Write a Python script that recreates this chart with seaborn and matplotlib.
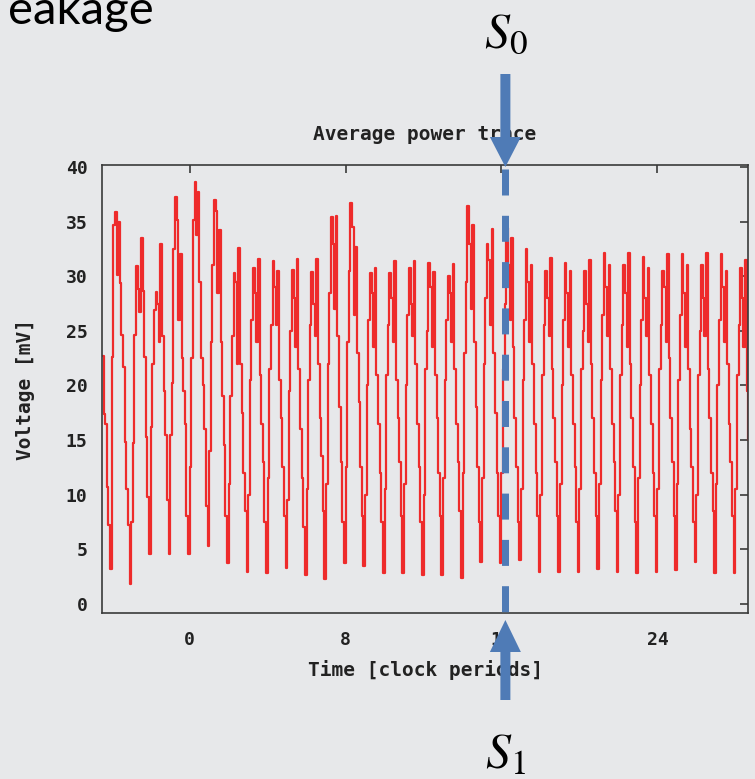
import numpy as np
import pandas as pd
import matplotlib
matplotlib.use("Agg")
import matplotlib.pyplot as plt
import seaborn as sns
from matplotlib.patches import Polygon
from matplotlib.lines import Line2D
from matplotlib.transforms import IdentityTransform

# ---------------- data ----------------
# samples every 1/12 clock period, starting at t = -4.5
lead_in = [22.7, 17.4, 16.5, 10.7, 7.2]

trace_part1 = [
    [3.2, 22.6, 34.7, 35.9, 30.1, 35.0, 29.4, 24.6, 21.7, 14.8, 10.5, 7.2],
    [1.8, 7.5, 14.7, 24.6, 30.9, 28.8, 26.7, 33.5, 28.7, 22.6, 15.3, 9.8],
    [4.6, 16.2, 22.0, 26.9, 28.6, 27.5, 24.0, 33.0, 24.5, 19.5, 15.5, 9.5],
    [4.6, 15.5, 20.2, 32.5, 37.3, 35.2, 26.0, 32.0, 22.5, 19.5, 16.5, 8.0],
    [4.6, 12.5, 22.5, 35.2, 38.6, 33.8, 37.7, 29.5, 22.5, 20.0, 16.0, 9.0],
    [5.3, 14.0, 24.0, 31.0, 37.0, 36.0, 28.5, 34.2, 24.0, 19.0, 14.5, 8.0],
    [3.7, 11.0, 19.0, 24.5, 30.3, 29.5, 22.0, 32.6, 22.0, 17.5, 12.0, 8.5],
    [2.9, 10.0, 20.5, 26.0, 30.8, 28.5, 24.0, 31.6, 21.0, 16.5, 13.0, 7.5],
    [2.8, 11.5, 21.5, 25.5, 31.4, 29.0, 25.5, 30.5, 20.5, 17.0, 12.5, 8.0],
    [3.3, 9.5, 19.5, 25.0, 30.6, 28.0, 23.5, 31.6, 21.5, 16.0, 11.5, 7.0],
    [2.6, 10.5, 20.5, 25.5, 30.4, 27.5, 24.5, 31.6, 22.0, 17.0, 13.5, 8.5],
]
trace_part2 = [
    [2.3, 11.0, 22.0, 28.5, 35.4, 33.0, 27.0, 35.5, 24.5, 18.0, 13.0, 7.5],
    [3.7, 12.5, 24.0, 30.5, 36.7, 34.5, 26.5, 32.7, 23.0, 18.5, 12.5, 8.0],
    [3.5, 10.0, 20.0, 26.0, 30.3, 28.5, 23.5, 30.8, 21.0, 16.5, 12.0, 7.5],
    [2.8, 10.5, 21.0, 25.5, 30.3, 28.0, 24.0, 31.4, 20.5, 17.0, 13.0, 8.0],
    [2.8, 11.0, 20.0, 26.5, 30.8, 27.5, 24.5, 31.4, 22.0, 16.5, 12.5, 7.5],
    [2.6, 10.0, 21.5, 25.0, 31.2, 29.0, 23.5, 30.4, 21.0, 17.0, 12.0, 8.0],
    [2.6, 11.5, 20.5, 26.0, 30.0, 28.5, 24.0, 31.1, 21.5, 16.5, 13.0, 8.5],
    [2.4, 12.0, 23.0, 29.5, 36.4, 33.0, 27.0, 34.7, 24.0, 18.0, 12.5, 7.5],
    [3.8, 11.5, 22.0, 28.0, 33.0, 31.5, 25.5, 34.3, 23.0, 17.5, 12.0, 8.0],
    [3.7, 12.0, 21.5, 27.5, 34.4, 31.0, 26.0, 33.5, 23.5, 17.0, 12.5, 7.5],
    [4.0, 10.5, 20.5, 26.0, 32.5, 29.5, 24.0, 31.0, 22.0, 16.5, 12.0, 8.0],
]
trace_part3 = [
    [2.9, 10.0, 21.0, 25.5, 30.5, 28.0, 24.5, 31.7, 21.5, 17.0, 13.0, 8.0],
    [2.9, 11.0, 20.0, 26.0, 31.2, 28.5, 23.5, 30.5, 21.0, 16.5, 12.5, 7.5],
    [2.9, 10.5, 21.5, 25.0, 30.5, 27.5, 24.0, 31.5, 22.0, 17.0, 12.0, 8.0],
    [3.2, 11.0, 20.5, 26.5, 32.1, 29.0, 24.5, 31.0, 21.5, 16.5, 13.0, 8.5],
    [2.9, 10.0, 21.0, 25.5, 31.0, 28.5, 23.5, 32.1, 22.0, 17.0, 12.5, 7.5],
    [2.8, 11.5, 20.0, 26.0, 31.8, 28.0, 24.5, 30.8, 21.0, 16.5, 12.0, 8.0],
    [2.9, 10.5, 21.5, 25.5, 30.5, 29.0, 24.0, 32.0, 22.5, 17.0, 13.0, 8.0],
    [3.1, 11.0, 20.5, 26.5, 32.0, 28.5, 23.5, 31.0, 21.5, 16.0, 12.5, 7.5],
    [3.8, 10.0, 21.0, 25.0, 31.0, 28.0, 24.5, 32.1, 21.5, 17.0, 12.0, 8.5],
    [2.8, 11.0, 20.0, 26.0, 32.0, 29.0, 24.0, 30.5, 22.0, 16.5, 13.0, 8.0],
    [2.8, 10.5, 21.0, 25.5, 30.8, 28.0, 23.5, 31.5, 19.5, 15.0],
]
t_start = -4.5
samples_per_period = 12

x_ticks = [0, 8, 16, 24]
y_ticks = [0, 5, 10, 15, 20, 25, 30, 35, 40]
x_limits = (-4.5, 28.65)
y_limits = (-0.85, 40.2)
marker_time = 16.2

title = "Average power trace"
x_label = "Time [clock periods]"
y_label = "Voltage [mV]"
slide_text = "eakage"
top_label = r"$S_0$"
bottom_label = r"$S_1$"

# ---------------- figure ----------------
W, H = 755, 779
BG = "#E7E8EA"
RED = "#EE2B2B"
BLUE = "#4F7BB6"
INK = "#222222"

sns.set_style("white")
plt.rcParams["font.family"] = ["DejaVu Sans Mono"]
plt.rcParams["mathtext.fontset"] = "stix"

fig = plt.figure(figsize=(W / 100, H / 100), dpi=100, facecolor=BG)
ax_l, ax_r, ax_t, ax_b = 102, 748, 165, 613
ax = fig.add_axes([ax_l / W, 1 - ax_b / H, (ax_r - ax_l) / W, (ax_b - ax_t) / H])
ax.set_facecolor(BG)

values = list(lead_in)
for part in (trace_part1, trace_part2, trace_part3):
    for cyc in part:
        values.extend(cyc)
time = t_start + np.arange(len(values)) / samples_per_period
df = pd.DataFrame({"time": time, "voltage": values})

sns.lineplot(data=df, x="time", y="voltage", drawstyle="steps-post",
             color=RED, lw=1.6, ax=ax, legend=False, sort=False,
             estimator=None)

ax.set_xlim(*x_limits)
ax.set_ylim(*y_limits)
ax.set_xticks(x_ticks)
ax.set_yticks(y_ticks)
for s in ax.spines.values():
    s.set_color("#3a3a3a")
    s.set_linewidth(1.2)
    s.set_visible(True)
ax.tick_params(direction="in", length=6, width=1.2, color="#3a3a3a",
               top=True, right=True, labelsize=13, labelcolor=INK)
ax.tick_params(axis="y", pad=10.5)
ax.tick_params(axis="x", pad=13)
for lbl in ax.get_xticklabels() + ax.get_yticklabels():
    lbl.set_fontweight("bold")

ax.set_title(title, fontsize=14, fontweight="bold", color=INK, pad=18)
ax.set_xlabel(x_label, fontsize=14, fontweight="bold", color=INK, labelpad=8)
ax.set_ylabel(y_label, fontsize=14, fontweight="bold", color=INK, labelpad=22)

# ---------------- slide annotations (pixel-placed) ----------------
fig.canvas.draw()
cx = ax.transData.transform((marker_time, 0))[0]


def py(y):
    return H - y


ident = IdentityTransform()
hw, hh = 5, 15.5
top_arrow = [(cx - hw, py(74)), (cx + hw, py(74)), (cx + hw, py(137)),
             (cx + hh, py(137)), (cx, py(167)), (cx - hh, py(137)),
             (cx - hw, py(137))]
bot_arrow = [(cx - hw, py(700)), (cx + hw, py(700)), (cx + hw, py(652)),
             (cx + hh, py(652)), (cx, py(620)), (cx - hh, py(652)),
             (cx - hw, py(652))]
for pts in (top_arrow, bot_arrow):
    fig.add_artist(Polygon(pts, closed=True, facecolor=BLUE, edgecolor="none",
                           transform=ident, zorder=10))

dash = Line2D([cx, cx], [py(169), py(614)], transform=ident, color=BLUE,
              lw=5.04, dashes=(26 / 7, 20.3 / 7), dash_capstyle="butt",
              zorder=9)
fig.add_artist(dash)

fig.text(cx / W, 1 - 47 / H, top_label, ha="center", va="baseline",
         fontsize=36, color="black")
fig.text(cx / W, 1 - 768 / H, bottom_label, ha="center", va="baseline",
         fontsize=36, color="black")
fig.text(154 / W, 1 - 24 / H, slide_text, ha="right", va="baseline",
         fontsize=34, family="Lato", color="black")

fig.savefig("out.png", dpi=100, facecolor=BG)
